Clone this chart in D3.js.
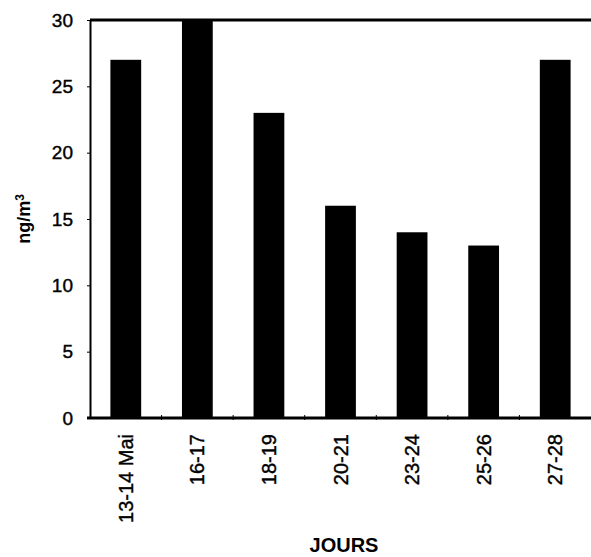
<!DOCTYPE html>
<html>
<head>
<meta charset="utf-8">
<script src="https://cdn.jsdelivr.net/npm/d3@7"></script>
<style>
  body { margin: 0; background: #fff; }
  svg { display: block; font-family: Arial, "Liberation Sans", sans-serif; }
</style>
</head>
<body>
<svg id="chart" width="591" height="557"></svg>
<script>
var days = ['13-14 Mai', '16-17', '18-19', '20-21', '23-24', '25-26', '27-28'];
var values = [27, 30, 23, 16, 14, 13, 27];
var yTicks = [0, 5, 10, 15, 20, 25, 30];

var svg = d3.select('#chart');
var plotLeft = 90, plotRight = 591, plotTop = 20, plotBottom = 418;

var x = d3.scaleBand().domain(days).range([plotLeft, plotRight])
    .paddingInner(0.57).paddingOuter(0.285);
var y = d3.scaleLinear().domain([0, 30]).range([plotBottom, plotTop]);

// Bars
svg.append('g').selectAll('rect')
    .data(values)
    .enter().append('rect')
    .attr('x', (d, i) => x(days[i]))
    .attr('y', (d) => y(d))
    .attr('width', x.bandwidth())
    .attr('height', (d) => y(0) - y(d))
    .attr('fill', '#000');

// Frame: top line, left axis, baseline
svg.append('line').attr('x1', plotLeft).attr('x2', plotRight)
    .attr('y1', y(30)).attr('y2', y(30))
    .attr('stroke', '#000').attr('stroke-width', 3);

var yAxis = svg.append('g')
    .attr('transform', 'translate(' + plotLeft + ',0)')
    .call(d3.axisLeft(y).tickValues(yTicks).tickSize(3).tickPadding(14).tickSizeOuter(0));
yAxis.select('.domain').attr('stroke-width', 2);
yAxis.selectAll('text').style('font-size', '19px').attr('fill', '#000')
    .attr('stroke', '#000').attr('stroke-width', 0.4);

var xAxis = svg.append('g')
    .attr('transform', 'translate(0,' + plotBottom + ')')
    .call(d3.axisBottom(x).tickSize(0).tickSizeOuter(0));
xAxis.select('.domain').attr('stroke-width', 3)
    .attr('d', 'M' + (plotLeft - 3) + ',0H' + plotRight);
xAxis.selectAll('text')
    .style('font-size', '20px')
    .attr('fill', '#000')
    .attr('stroke', '#000').attr('stroke-width', 0.4)
    .attr('transform', 'rotate(-90)')
    .attr('x', -16).attr('y', 0).attr('dy', '0.35em')
    .style('text-anchor', 'end');

// small marks between the bars
svg.append('g').selectAll('line')
    .data(days.slice(1))
    .enter().append('line')
    .attr('x1', (d) => x(d) - x.step() * 0.285)
    .attr('x2', (d) => x(d) - x.step() * 0.285)
    .attr('y1', plotBottom - 3).attr('y2', plotBottom + 2)
    .attr('stroke', '#000').attr('stroke-width', 1);

// Axis titles
var yTitle = svg.append('text')
    .attr('transform', 'translate(30,' + ((plotTop + plotBottom) / 2) + ') rotate(-90)')
    .attr('text-anchor', 'middle')
    .style('font-size', '18px').style('font-weight', 'bold');
yTitle.append('tspan').text('ng/m');
yTitle.append('tspan').attr('dy', '-0.5em').style('font-size', '12px').text('3');

svg.append('text')
    .attr('x', 344).attr('y', 552)
    .attr('text-anchor', 'middle')
    .style('font-size', '20px').style('font-weight', 'bold')
    .text('JOURS');
</script>
</body>
</html>
